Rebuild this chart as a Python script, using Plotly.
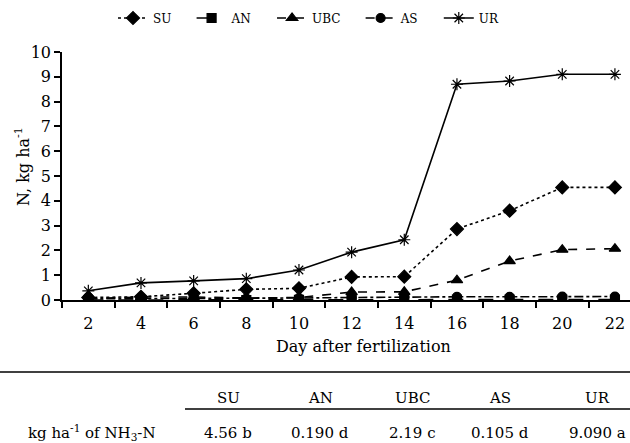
import plotly.graph_objects as go

days = [2, 4, 6, 8, 10, 12, 14, 16, 18, 20, 22]
su = [0.10, 0.13, 0.27, 0.43, 0.47, 0.93, 0.94, 2.86, 3.60, 4.54, 4.54]
an = [0.00, 0.00, 0.00, 0.00, 0.01, 0.01, 0.01, 0.02, 0.02, 0.02, 0.02]
ubc = [0.05, 0.12, 0.12, 0.08, 0.10, 0.32, 0.33, 0.80, 1.57, 2.03, 2.07]
as_ = [0.05, 0.05, 0.05, 0.06, 0.08, 0.10, 0.12, 0.13, 0.13, 0.14, 0.14]
ur = [0.37, 0.69, 0.77, 0.86, 1.21, 1.93, 2.43, 8.70, 8.83, 9.10, 9.10]

table_cols = ["SU", "AN", "UBC", "AS", "UR"]
table_vals = ["4.56 b", "0.190 d", "2.19 c", "0.105 d", "9.090 a"]
table_row_label = "kg ha<sup>-1</sup> of NH<sub>3</sub>-N"

FONT = "DejaVu Serif"
W, H = 630, 443
L, R, T, B = 62, 0, 52, 143
PW, PH = W - L - R, H - T - B

def px(xp):
    return (xp - L) / PW

def py(yp):
    return (H - B - yp) / PH

PAD = "\u00a0" * 4
series = [
    ("SU", su, "dot", "diamond", 10),
    ("AN", an, "longdash", "square", 9),
    ("UBC", ubc, "dash", "triangle-up", 10),
    ("AS", as_, "dashdot", "circle", 9),
    ("UR", ur, "solid", "asterisk-open", 10),
]

fig = go.Figure()
for name, vals, dash, sym, size in series:
    fig.add_trace(go.Scatter(
        x=days, y=vals, name=name + PAD, mode="lines+markers",
        line=dict(color="black", width=1.6, dash=dash),
        marker=dict(symbol=sym, size=size, color="black",
                    line=dict(color="black", width=1.2)),
    ))

fig.update_layout(
    width=W, height=H,
    margin=dict(l=L, r=R, t=T, b=B, pad=0),
    paper_bgcolor="white", plot_bgcolor="white",
    font=dict(family=FONT, color="black", size=15),
    showlegend=True,
    legend=dict(orientation="h", x=px(316), xanchor="center",
                y=py(18), yanchor="middle",
                font=dict(size=12, family=FONT),
                itemwidth=30, tracegroupgap=0),
    xaxis=dict(
        range=[1, 1 + PW / 26.33],
        tickvals=days, ticktext=[str(d) for d in days],
        ticks="", showgrid=False, zeroline=False,
        showline=True, linecolor="black", linewidth=1.5,
        tickfont=dict(size=16, family=FONT),
        ticklabelstandoff=8,
        minor=dict(tickvals=list(range(1, 23, 2)), ticks="outside",
                   ticklen=6, tickcolor="black", tickwidth=1.5,
                   showgrid=False),
    ),
    yaxis=dict(
        range=[0, 10], tickvals=list(range(0, 11)),
        ticks="outside", ticklen=6, tickcolor="black", tickwidth=1.5,
        showgrid=False, zeroline=False,
        showline=True, linecolor="black", linewidth=1.5,
        tickfont=dict(size=16, family=FONT),
    ),
)

ann = [
    dict(text="Day after fertilization", x=px(363), y=py(346),
         font=dict(size=16)),
    dict(text="N, kg ha<sup>-1</sup>", x=px(22), y=py(167), textangle=-90,
         font=dict(size=16)),
    dict(text=table_row_label, x=px(92), y=py(433), font=dict(size=15)),
]
col_x = [228, 320, 412, 500, 597]
for cx, c, v in zip(col_x, table_cols, table_vals):
    ann.append(dict(text=c, x=px(cx), y=py(398), font=dict(size=15)))
    ann.append(dict(text=v, x=px(cx), y=py(433), font=dict(size=15)))
for a in ann:
    a.update(xref="paper", yref="paper", showarrow=False,
             xanchor="center", yanchor="middle")
    fig.add_annotation(**a)

fig.add_shape(type="line", xref="paper", yref="paper",
              x0=px(0), x1=px(630), y0=py(372), y1=py(372),
              line=dict(color="black", width=1.5))
fig.add_shape(type="line", xref="paper", yref="paper",
              x0=px(185), x1=px(630), y0=py(409), y1=py(409),
              line=dict(color="black", width=1.5))

fig.write_html(
    "out.html",
    config={"displayModeBar": False},
    post_script="document.body.style.margin='0';document.body.style.overflow='hidden';",
)
